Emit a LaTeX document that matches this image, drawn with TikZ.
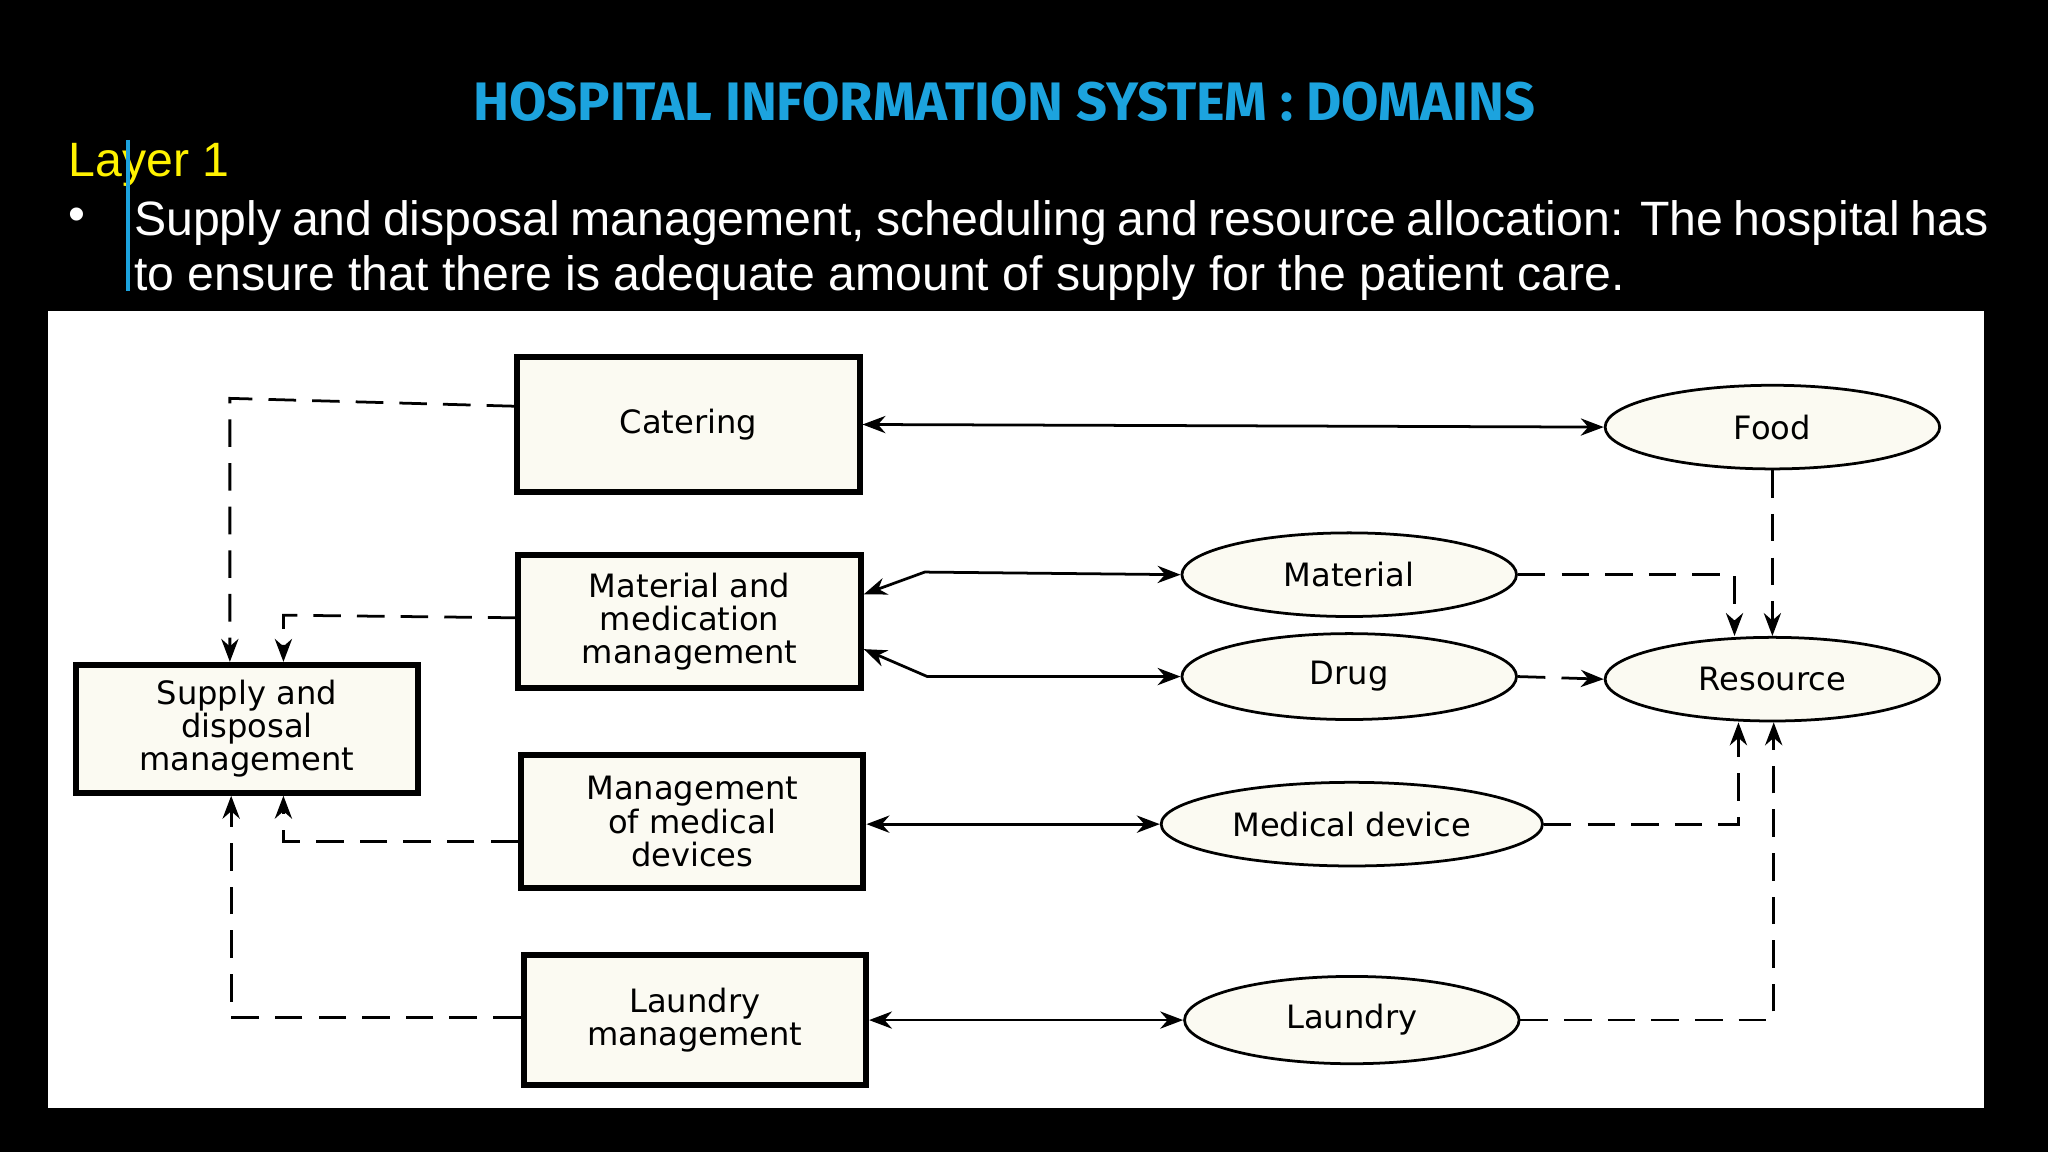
\documentclass[tikz,border=0pt]{standalone}
\usepackage{fontspec}
\setmainfont{Liberation Sans}
\newfontfamily\titlefont{Fira Sans}
\newfontfamily\diafont{DejaVu Sans}
\usetikzlibrary{shapes.geometric,arrows.meta}
\definecolor{titleblue}{HTML}{1CA3DE}
\definecolor{cream}{HTML}{FBFAF2}
\tikzset{
 box/.style={draw=black,line width=1.3pt,fill=cream,minimum width=2.62cm,align=center,font=\diafont\fontsize{7}{7.2}\selectfont},
 ell/.style={ellipse,draw=black,line width=0.6pt,fill=cream,minimum width=2.56cm,minimum height=0.64cm,font=\diafont\fontsize{7}{7}\selectfont},
 sol/.style={line width=0.6pt,{Stealth[length=5pt]}-{Stealth[length=5pt]}},
 dsh/.style={line width=0.6pt,dash pattern=on 6pt off 3.5pt,-{Stealth[length=5pt]}}
}
\begin{document}
\begin{tikzpicture}[x=0.01cm,y=-0.01cm]
\fill[black] (0,0) rectangle (1568,882);
\useasboundingbox (0,0) rectangle (1568,882);
\node[text=titleblue,font=\titlefont\bfseries] at (769,78) {\resizebox{8.13cm}{!}{HOSPITAL INFORMATION SYSTEM : DOMAINS}};
\node[text=yellow,font=\fontsize{10.5}{12}\selectfont,anchor=west,inner sep=0] at (52,126) {Layer 1};
\node[text=white,font=\fontsize{10.5}{12}\selectfont,anchor=west,inner sep=0] at (52,168) {•};
\node[text=white,font=\fontsize{10.5}{12}\selectfont,anchor=north west,inner sep=0,text width=14.19cm,align=justify] at (102,153) {Supply and disposal management, scheduling and resource allocation: The hospital has to ensure that there is adequate amount of supply for the patient care.};
\draw[titleblue,line width=0.8pt] (98,107) -- (98,223);
\fill[white] (37,238) rectangle (1519,848);
% boxes
\node[box,minimum height=1.04cm] (cat) at (527,325) {Catering};
\node[box,minimum height=1.02cm] (mat) at (528,476) {Material and\\medication\\management};
\node[box,minimum height=1.02cm] (mmd) at (530,629) {Management\\of medical\\devices};
\node[box,minimum height=1.00cm] (lau) at (532,781) {Laundry\\management};
\node[box,minimum height=0.85cm] (sup) at (189,558) {Supply and\\disposal\\management};
% ellipses
\node[ell] (food) at (1357,327) {Food};
\node[ell] (mate) at (1033,440) {Material};
\node[ell] (drug) at (1033,518) {Drug};
\node[ell] (res) at (1357,520) {Resource};
\node[ell] (med) at (1035,631) {Medical device};
\node[ell] (laue) at (1035,781) {Laundry};
% solid
\draw[sol] (cat.east) -- (food.west);
\draw[sol] (mat.east |- 0,455) -- (708,438) -- (mate.west);
\draw[sol] (mat.east |- 0,497) -- (710,518) -- (drug.west);
\draw[sol] (mmd.east |- med.west) -- (med.west);
\draw[sol] (lau.east) -- (laue.west);
% dashed left
\draw[dsh] (cat.west |- 0,311) -- (176,305) -- (sup.north -| 176,0);
\draw[dsh] (mat.west |- 0,473) -- (217,471) -- (sup.north -| 217,0);
\draw[dsh] (mmd.west |- 0,644) -- (217,644) -- (sup.south -| 217,0);
\draw[dsh] (lau.west |- 0,779) -- (177,779) -- (sup.south -| 177,0);
% dashed right
\draw[dsh] (mate.east) -- (1328,440) -- (res.north -| 1328,0);
\draw[dsh] (food.south) -- (res.north -| food.south);
\draw[dsh] (drug.east) -- (res.west);
\draw[dsh] (med.east) -- (1331,631) -- (res.south -| 1331,0);
\draw[dsh] (laue.east) -- (1358,781) -- (res.south -| 1358,0);
\end{tikzpicture}
\end{document}
